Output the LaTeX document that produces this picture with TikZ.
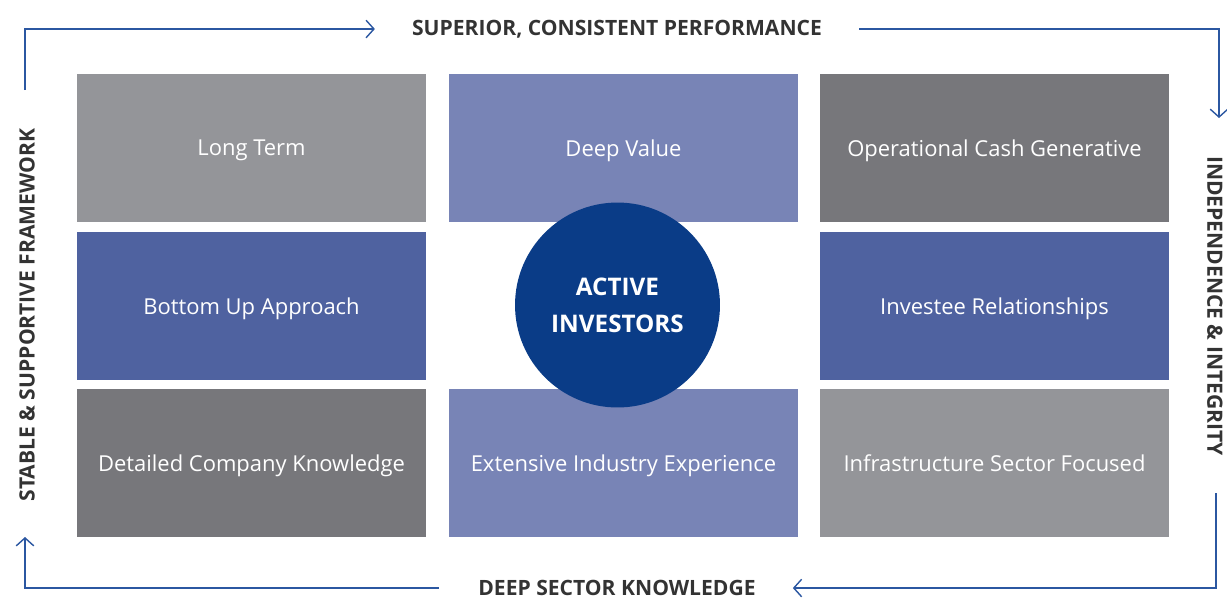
\documentclass[tikz,border=0pt]{standalone}
\usepackage{fontspec}
\setmainfont{Open Sans}
\usetikzlibrary{arrows.meta, positioning}
\definecolor{greyA}{HTML}{949599}
\definecolor{greyB}{HTML}{77777B}
\definecolor{blueA}{HTML}{7884B6}
\definecolor{blueB}{HTML}{4F62A0}
\definecolor{navy}{HTML}{0A3C87}
\definecolor{flowblue}{HTML}{2B57A1}
\definecolor{ink}{HTML}{333333}

\tikzset{
    tile/.style={fill=#1, text=white, minimum width=6.98cm, minimum height=2.96cm, inner sep=0pt, text depth=0pt, font=\fontsize{12.5}{15}\selectfont},
    label/.style={text=ink, font=\fontsize{12}{14}\selectfont\bfseries},
    flow/.style={draw=flowblue, line width=0.8pt, -{Straight Barb[length=4.5pt, width=10pt]}}
}

\begin{document}
\begin{tikzpicture}[x=0.02cm, y=-0.02cm]
                        \useasboundingbox (0, 0) rectangle (1227, 600);
                        % grid of tiles
                        \node[tile=greyA] (lt) at (251.5, 148) {Long Term};
                        \node[tile=blueA] (dv) at (623.5, 148) {Deep Value};
                        \node[tile=greyB] (oc) at (994.5, 148) {Operational Cash Generative};
                        \node[tile=blueB] (bu) at (251.5, 306) {Bottom Up Approach};
                        \node[tile=blueB] (ir) at (994.5, 306) {Investee Relationships};
                        \node[tile=greyB] (dc) at (251.5, 463) {Detailed Company Knowledge};
                        \node[tile=blueA] (ei) at (623.5, 463) {Extensive Industry Experience};
                        \node[tile=greyA] (is) at (994.5, 463) {Infrastructure Sector Focused};
                        \node[circle, fill=navy, text=white, minimum size=4.1cm, align=center, font=\fontsize{13.8}{21}\selectfont\bfseries] (ai) at (617.5, 305) {ACTIVE\\INVESTORS};
                        % labels round the grid
                        \node[label] (top) at (617, 29) {SUPERIOR, CONSISTENT PERFORMANCE};
                        \node[label] (bot) at (617, 588) {DEEP SECTOR KNOWLEDGE};
                        \node[label, rotate=90] (lft) at (27, 315) {STABLE \& SUPPORTIVE FRAMEWORK};
                        \node[label, rotate=-90] (rgt) at (1215, 306) {INDEPENDENCE \& INTEGRITY};
                        \coordinate (c1) at (25, 90);
                        \coordinate (c2) at (1219, 118);
                        \coordinate (c3) at (1216, 493);
                        \coordinate (c4) at (25, 537);
                        \draw[flow, shorten >=0.62cm] (c1) |- (top.west);
                        \draw[flow, shorten <=0.62cm] (top.east) -| (c2);
                        \draw[flow, shorten >=0.62cm] (c3) |- (bot.east);
                        \draw[flow, shorten <=0.66cm] (bot.west) -| (c4);
                    \end{tikzpicture}
\end{document}
